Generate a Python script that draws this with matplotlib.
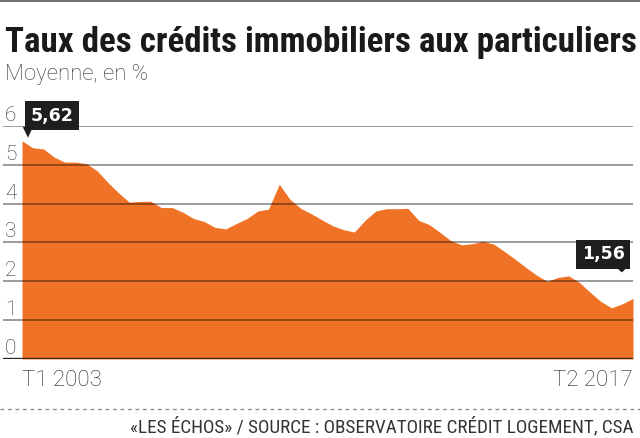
import matplotlib
matplotlib.use("Agg")
import matplotlib.pyplot as plt
from matplotlib import font_manager
from matplotlib.lines import Line2D
from matplotlib.patches import Polygon

# ---------------- data ----------------
quarters_start = "T1 2003"
quarters_end = "T2 2017"
rates = [5.62, 5.44, 5.41, 5.20, 5.07, 5.07, 5.03, 4.85, 4.55, 4.28,
         4.04, 4.06, 4.06, 3.90, 3.90, 3.78, 3.62, 3.54, 3.39, 3.35,
         3.49, 3.62, 3.81, 3.86, 4.50, 4.11, 3.88, 3.74, 3.58, 3.43,
         3.33, 3.27, 3.57, 3.81, 3.87, 3.87, 3.88, 3.57, 3.46, 3.26,
         3.05, 2.94, 2.97, 3.03, 2.96, 2.77, 2.57, 2.36, 2.16, 2.00,
         2.10, 2.14, 1.97, 1.72, 1.48, 1.32, 1.42, 1.56]
y_ticks = [0, 1, 2, 3, 4, 5, 6]
first_label = "5,62"
last_label = "1,56"
title = "Taux des crédits immobiliers aux particuliers"
subtitle = "Moyenne, en %"
source = "«LES ÉCHOS» / SOURCE : OBSERVATOIRE CRÉDIT LOGEMENT, CSA"

ORANGE = "#F07226"

# ---------------- fonts ----------------
names = {f.name for f in font_manager.fontManager.ttflist}
def pick(cands):
    for c in cands:
        if c in names:
            return c
    return "DejaVu Sans"
COND = pick(["Roboto Condensed", "Liberation Sans Narrow", "Noto Sans Condensed",
             "Open Sans Condensed", "Roboto", "Liberation Sans"])
LIGHT = pick(["Roboto", "Lato", "Open Sans", "DejaVu Sans"])

W, H = 640, 438
fig = plt.figure(figsize=(W / 100, H / 100), dpi=100)
fig.patch.set_facecolor("white")

n = len(rates)
x = list(range(n))
x0_px, x1_px, ax_left_px = 22, 633, 3
y0_px, y6_px = 359, 126
ppq = (x1_px - x0_px) / (n - 1)
ppu = (y0_px - y6_px) / 6

ax = fig.add_axes([ax_left_px / W, (H - y0_px) / H,
                   (x1_px - ax_left_px) / W, (y0_px - y6_px) / H])
ax.set_xlim(-(x0_px - ax_left_px) / ppq, n - 1)
ax.set_ylim(0, 6)
ax.axis("off")

ax.fill_between(x, 0, rates, color=ORANGE, lw=0, zorder=1)

for v in y_ticks[1:]:
    ax.axhline(v, color="black", alpha=0.42, lw=1.3, zorder=2)
ax.axhline(0, color="#2a2320", lw=2.4, zorder=3)

for v in y_ticks:
    ax.annotate(str(v), xy=(0.003, v), xycoords=ax.get_yaxis_transform(),
                xytext=(0, 5), textcoords="offset pixels",
                ha="left", va="baseline", fontsize=15, family=LIGHT,
                fontweight="light", color="#333333", annotation_clip=False)

# value labels with pointer
def tag(i, text, dx, dy, tri):
    ax.annotate(text, xy=(x[i], rates[i]), xytext=(dx, dy),
                textcoords="offset pixels", ha="center", va="center",
                fontsize=12.5, fontweight="bold", family="DejaVu Sans",
                color="white", annotation_clip=False, zorder=6,
                bbox=dict(boxstyle="square,pad=0.32", fc="#1e1e1e", ec="none"))
    pts = [(x[i] + px / ppq, rates[i] + py / ppu) for px, py in tri]
    ax.add_patch(Polygon(pts, closed=True, fc="#1e1e1e", ec="none",
                         transform=ax.transData, clip_on=False, zorder=6))

tag(0, first_label, 30, 25, [(0.7, 14), (11, 14), (6, 3)])
tag(n - 1, last_label, -30, 44, [(-17, 31), (-6, 31), (-11, 26)])

# x labels
fig.text(x0_px / W, 1 - 386 / H, quarters_start, ha="left", va="baseline",
         fontsize=16, family=LIGHT, fontweight="light", color="#222222")
fig.text(x1_px / W, 1 - 386 / H, quarters_end, ha="right", va="baseline",
         fontsize=16, family=LIGHT, fontweight="light", color="#222222")

# titles
t1 = fig.text(5 / W, 1 - 52 / H, title, ha="left", va="baseline",
              fontsize=22, family=COND, fontweight="bold", color="#1a1a1a")
t2 = fig.text(5 / W, 1 - 80 / H, subtitle, ha="left", va="baseline",
              fontsize=15, family=LIGHT, fontweight="light", color="#333333")
t3 = fig.text(633 / W, 1 - 432 / H, source, ha="right", va="baseline",
              fontsize=11, family=COND, color="#333333")

def fit(t, target):
    r = fig.canvas.get_renderer()
    for _ in range(3):
        w = t.get_window_extent(r).width
        t.set_fontsize(t.get_fontsize() * target / w)
fit(t1, 630)
fit(t2, 143)
fit(t3, 505)

# decorative lines
fig.add_artist(Line2D([0, 1], [1 - 1 / H, 1 - 1 / H], color="#555555", lw=1.2))
fig.add_artist(Line2D([0, 1], [1 - 409 / H, 1 - 409 / H], color="#888888",
                      lw=0.9, linestyle=(0, (3, 3))))

fig.savefig("out.png", dpi=100, facecolor="white")
